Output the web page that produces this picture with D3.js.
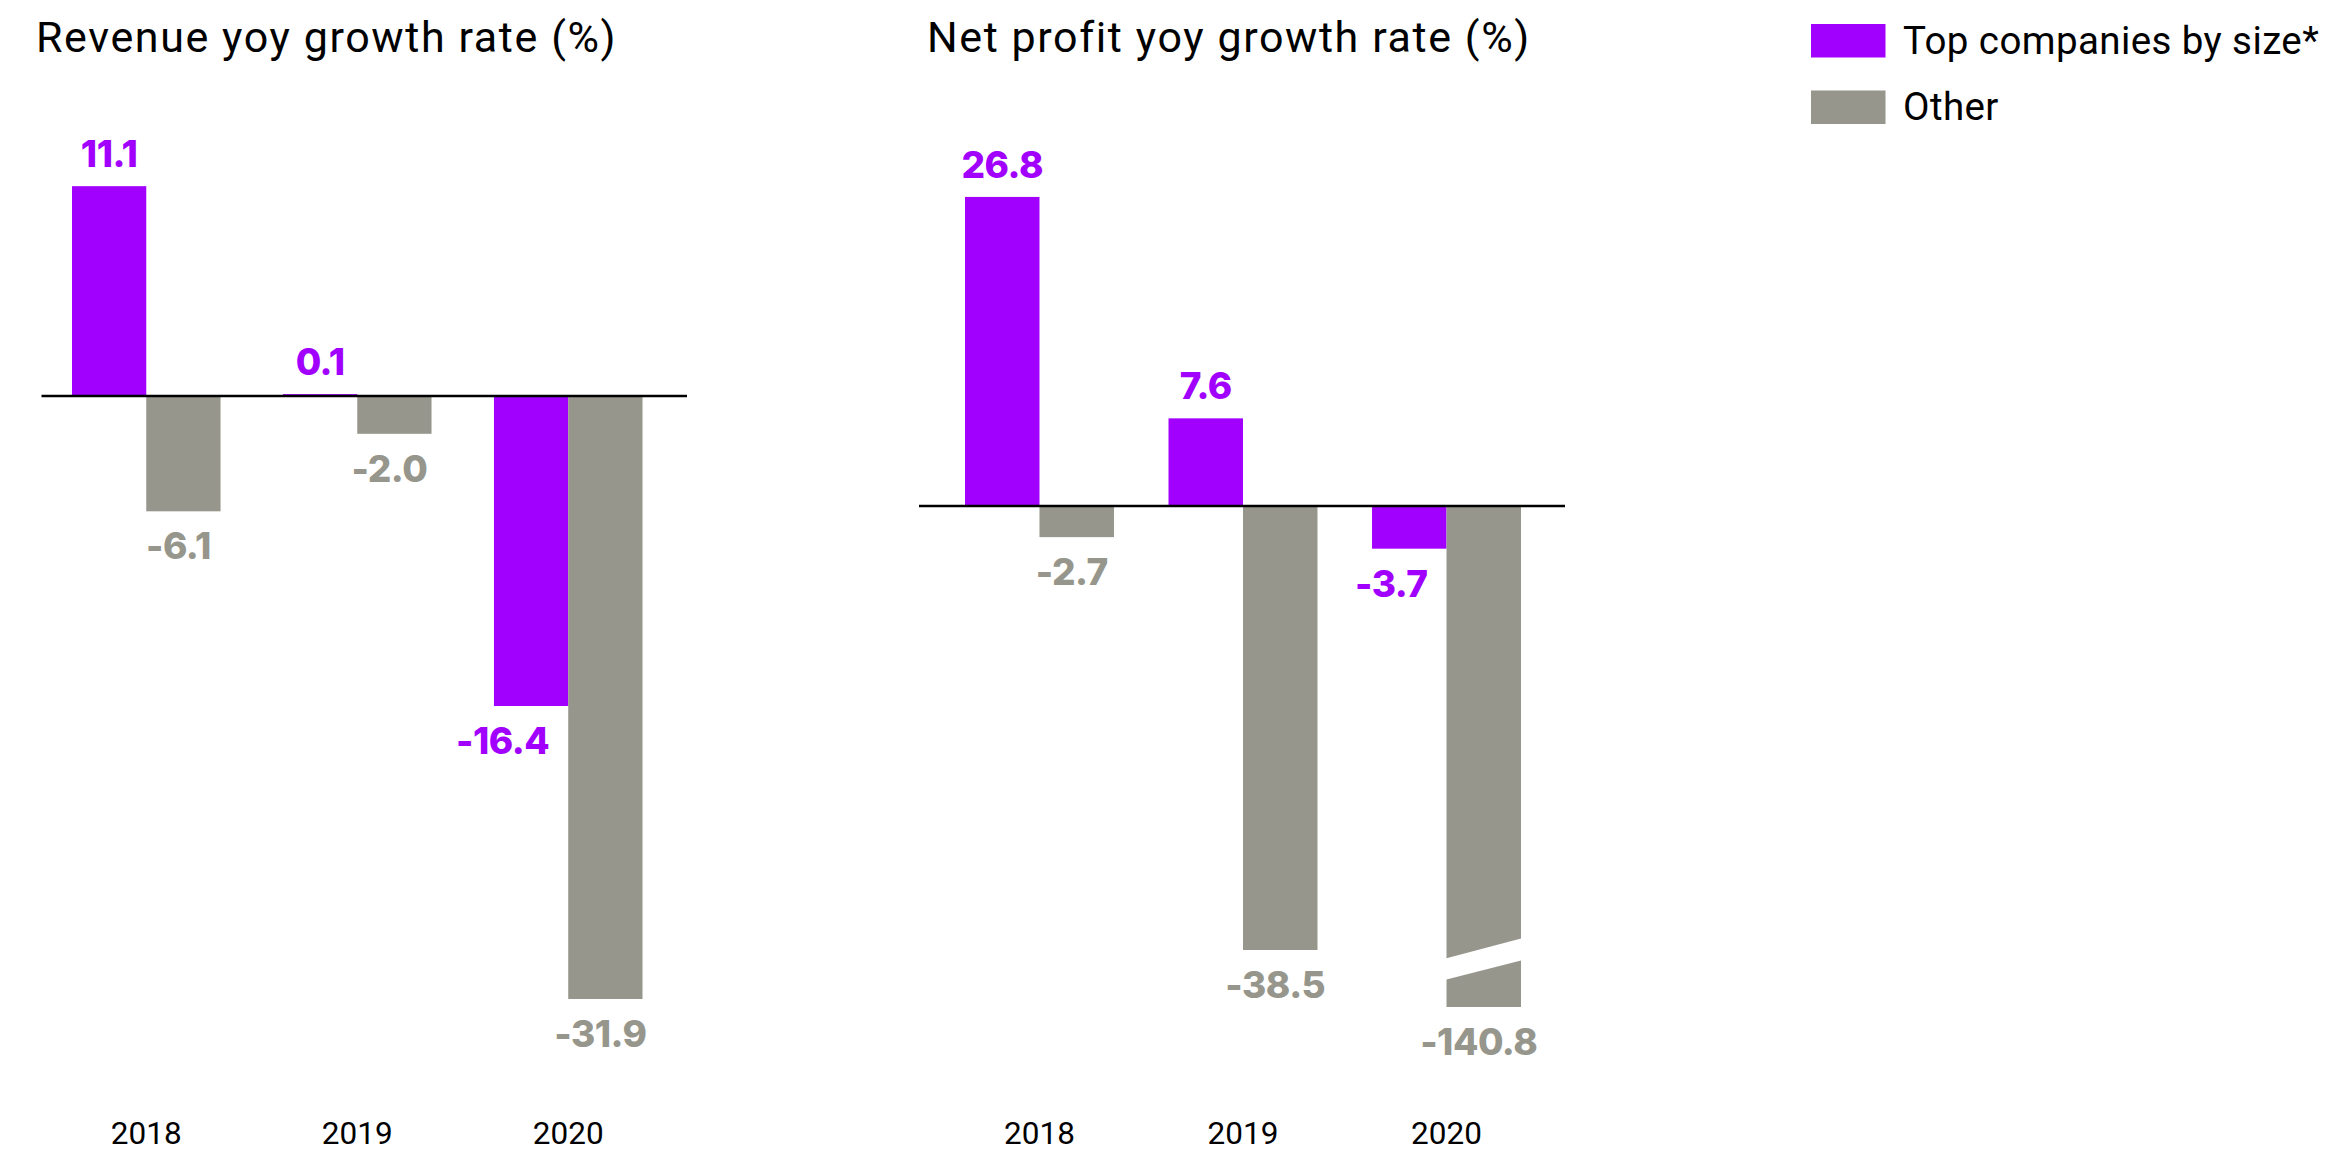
<!DOCTYPE html>
<html>
<head>
<meta charset="utf-8">
<script src="https://cdn.jsdelivr.net/npm/d3@7"></script>
<style>
  html, body { margin: 0; padding: 0; background: #fff; }
  svg { display: block; }
</style>
</head>
<body>
<svg id="chart" width="2326" height="1152"></svg>
<script>
// ---- data ----
const years = ["2018", "2019", "2020"];
const seriesNames = ["Top companies by size*", "Other"];
const revenueTop = [11.1, 0.1, -16.4];
const revenueOther = [-6.1, -2.0, -31.9];
const profitTop = [26.8, 7.6, -3.7];
const profitOther = [-2.7, -38.5, -140.8];
const panelTitles = ["Revenue yoy growth rate (%)", "Net profit yoy growth rate (%)"];

// ---- styles ----
const colors = ["#A100FF", "#96968C"];
const textFont = "Roboto, 'Open Sans', sans-serif";
const valueFont = "Inter, 'Noto Sans', sans-serif";
const fmt = v => d3.format(".1f")(v).replace("\u2212", "-");

const svg = d3.select("#chart");
svg.append("rect").attr("width", 2326).attr("height", 1152).attr("fill", "#fff");

// Layout of the two small multiples
const panels = [
  {
    title: panelTitles[0], top: revenueTop, other: revenueOther,
    titleX: 36, bandRange: [72, 642.5], padInner: 0.296, axisX: [41.5, 687],
    yDomain: [0, -31.9], yRange: [396, 999], breakBelow: null
  },
  {
    title: panelTitles[1], top: profitTop, other: profitOther,
    titleX: 927, bandRange: [965, 1521], padInner: 0.268, axisX: [919, 1565],
    // broken axis: values past -38.5 are compressed into the last segment
    yDomain: [0, -38.5, -140.8], yRange: [506, 950, 1007], breakBelow: -45
  }
];

panels.forEach(p => {
  const g = svg.append("g");

  // title
  g.append("text")
    .attr("x", p.titleX).attr("y", 52)
    .attr("font-family", textFont).attr("font-size", 43)
    .attr("letter-spacing", 1.6)
    .attr("fill", "#000")
    .text(p.title);

  const x0 = d3.scaleBand().domain(years).range(p.bandRange)
    .paddingInner(p.padInner).paddingOuter(0);
  const x1 = d3.scaleBand().domain(seriesNames).range([0, x0.bandwidth()]).padding(0);
  const y = d3.scaleLinear().domain(p.yDomain).range(p.yRange);

  const rows = years.map((yr, i) => ({
    year: yr,
    values: [
      { s: seriesNames[0], idx: 0, v: p.top[i] },
      { s: seriesNames[1], idx: 1, v: p.other[i] }
    ]
  }));

  const groups = g.selectAll("g.grp").data(rows).join("g")
    .attr("class", "grp")
    .attr("transform", d => `translate(${x0(d.year)},0)`);

  // bars
  groups.selectAll("rect.bar").data(d => d.values).join("rect")
    .attr("class", "bar")
    .attr("x", d => x1(d.s))
    .attr("width", x1.bandwidth())
    .attr("y", d => Math.min(y(d.v), y(0)))
    .attr("height", d => Math.abs(y(d.v) - y(0)))
    .attr("fill", d => colors[d.idx]);

  // break marks on bars that run off the scale
  if (p.breakBelow !== null) {
    groups.selectAll("path.brk")
      .data(d => d.values.filter(v => v.v < p.breakBelow))
      .join("path")
      .attr("class", "brk")
      .attr("fill", "#fff")
      .attr("d", d => {
        const xl = x1(d.s) - 1, xr = x1(d.s) + x1.bandwidth() + 1, yb = y(d.v);
        return `M${xl},${yb - 48.5}L${xr},${yb - 68.8}L${xr},${yb - 46.7}L${xl},${yb - 27.2}Z`;
      });
  }

  // zero line
  g.append("line")
    .attr("x1", p.axisX[0]).attr("x2", p.axisX[1])
    .attr("y1", y(0)).attr("y2", y(0))
    .attr("stroke", "#000").attr("stroke-width", 2.5);

  // value labels
  groups.each(function (row) {
    const grp = d3.select(this);
    row.values.forEach((d, k) => {
      const bx = x1(d.s), bw = x1.bandwidth();
      const t = grp.append("text")
        .attr("font-family", valueFont).attr("font-weight", 800)
        .attr("font-size", 37).attr("letter-spacing", -0.5)
        .attr("fill", colors[d.idx])
        .text(fmt(d.v));
      if (d.v >= 0) {
        t.attr("x", bx + bw / 2).attr("y", y(d.v) - 19).attr("text-anchor", "middle");
      } else {
        const ly = y(d.v) + 48;
        const next = row.values[k + 1];
        if (next && y(next.v) > ly - 30) {
          // neighbouring bar is deeper: keep the label clear of it
          t.attr("x", bx + bw - 19).attr("y", ly).attr("text-anchor", "end");
        } else {
          t.attr("x", bx + bw / 2 - 5).attr("y", ly).attr("text-anchor", "middle");
        }
      }
    });
  });

  // year labels
  const xAxis = g.append("g")
    .attr("transform", "translate(0,1144)")
    .call(d3.axisBottom(x0).tickSize(0).tickPadding(0));
  xAxis.select(".domain").remove();
  xAxis.selectAll("text")
    .attr("dy", null).attr("y", 0)
    .attr("font-family", textFont).attr("font-size", 31.5)
    .attr("fill", "#000");
});

// legend
const legend = svg.append("g").attr("transform", "translate(1811,24)");
const li = legend.selectAll("g").data(seriesNames).join("g")
  .attr("transform", (d, i) => `translate(0,${i * 66.5})`);
li.append("rect").attr("width", 74.5).attr("height", 33.5)
  .attr("fill", (d, i) => colors[i]);
li.append("text").attr("x", 92).attr("y", 29.5)
  .attr("font-family", textFont).attr("font-size", 38.5)
  .attr("letter-spacing", 0.4).attr("fill", "#000")
  .text(d => d);
</script>
</body>
</html>
